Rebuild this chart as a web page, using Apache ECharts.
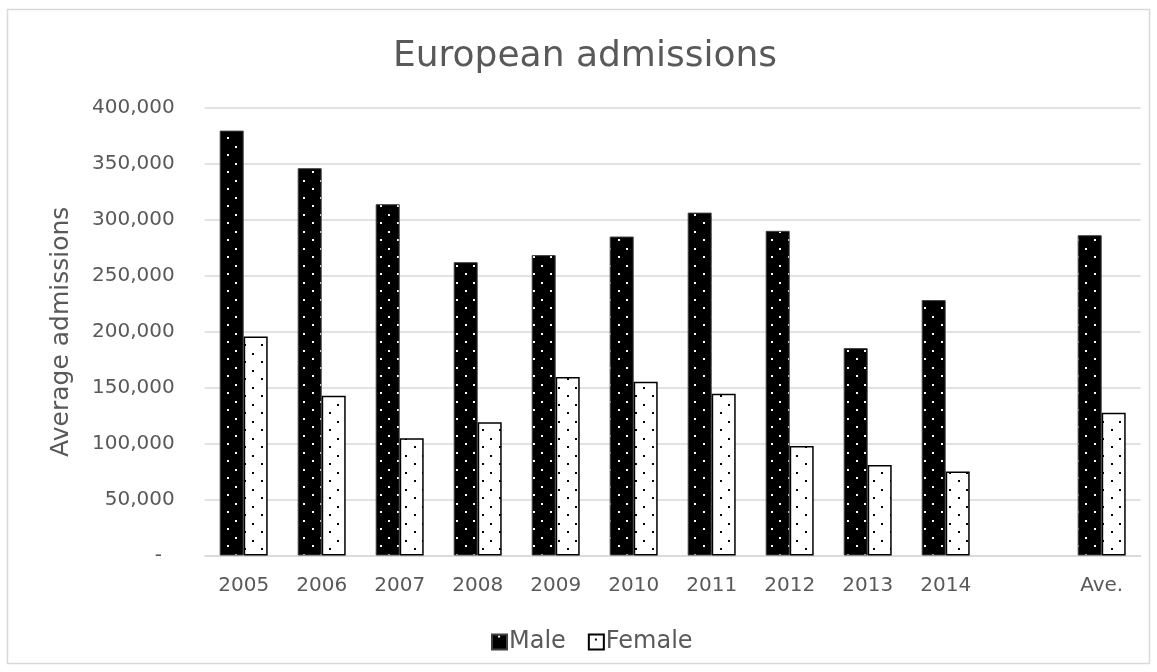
<!DOCTYPE html>
<html>
<head>
<meta charset="utf-8">
<script src="https://cdn.jsdelivr.net/npm/echarts@6/dist/echarts.min.js"></script>
<style>
  html, body { margin: 0; padding: 0; background: #ffffff; }
  #chart { width: 1157px; height: 672px; }
</style>
</head>
<body>
<div id="chart"></div>
<script>
// ---- data ----
const categories = ['2005', '2006', '2007', '2008', '2009', '2010', '2011', '2012', '2013', '2014', '', 'Ave.'];
const maleValues = [379800, 346200, 314000, 262200, 268500, 285100, 306500, 290200, 185400, 228300, null, 286300];
const femaleValues = [195800, 142900, 104800, 119100, 159600, 155400, 144600, 97900, 80900, 75000, null, 127500];
const yTickLabels = ['-', '50,000', '100,000', '150,000', '200,000', '250,000', '300,000', '350,000', '400,000'];
const seriesNames = ['Male', 'Female'];
const titleText = 'European admissions';
const yAxisTitle = 'Average admissions';

// ---- dotted fill patterns ----
function makePattern(bg, dot, dots) {
  const c = document.createElement('canvas');
  c.width = 17; c.height = 17;
  const ctx = c.getContext('2d');
  ctx.fillStyle = bg;
  ctx.fillRect(0, 0, 17, 17);
  ctx.fillStyle = dot;
  dots.forEach(function (p) { ctx.fillRect(p[0], p[1], 2, 2); });
  return c;
}
const malePattern = makePattern('#000000', '#ffffff', [[6, 1], [14, 10]]);
const femalePattern = makePattern('#ffffff', '#000000', [[6, 4], [14, 13]]);

const FONT = 'DejaVu Sans';
const TEXT = '#595959';
const GRID = '#d9d9d9';

const chart = echarts.init(document.getElementById('chart'), null, { renderer: 'canvas' });
chart.setOption({
  animation: false,
  backgroundColor: '#ffffff',
  textStyle: { fontFamily: FONT },
  title: {
    text: titleText,
    left: 585,
    top: 39,
    padding: 0,
    textAlign: 'center',
    textStyle: { fontFamily: FONT, fontSize: 36, fontWeight: 'normal', color: TEXT }
  },
  graphic: [{
    type: 'rect',
    shape: { x: 7.5, y: 9.5, width: 1142, height: 654 },
    style: { fill: 'none', stroke: GRID, lineWidth: 1.5 },
    silent: true,
    z: -1
  }],
  legend: {
    data: seriesNames,
    left: 491,
    top: 630,
    padding: 0,
    itemWidth: 15,
    itemHeight: 15,
    itemGap: 22,
    icon: 'rect',
    selectedMode: false,
    textStyle: { fontFamily: FONT, fontSize: 24, color: TEXT, padding: [0, 0, 0, -3] }
  },
  grid: { left: 204.7, right: 16.3, top: 108, bottom: 116.5, containLabel: false },
  xAxis: {
    type: 'category',
    data: categories,
    axisTick: { show: false },
    axisLine: { show: true, lineStyle: { color: GRID, width: 1.5 } },
    axisLabel: { color: TEXT, fontFamily: FONT, fontSize: 20, margin: 20, interval: 0 }
  },
  yAxis: {
    type: 'value',
    min: 0,
    max: 400000,
    interval: 50000,
    name: yAxisTitle,
    nameLocation: 'middle',
    nameGap: 131,
    nameTextStyle: { color: TEXT, fontFamily: FONT, fontSize: 25 },
    axisLine: { show: false },
    axisTick: { show: false },
    splitLine: { show: true, lineStyle: { color: GRID, width: 1.5 } },
    axisLabel: {
      color: TEXT, fontFamily: FONT, fontSize: 20, margin: 30,
      formatter: function (v) {
        const idx = Math.round(v / 50000);
        const s = yTickLabels[idx];
        return idx === 0 ? s + '  ' : s;
      }
    }
  },
  series: [
    {
      name: seriesNames[0],
      type: 'bar',
      data: maleValues,
      barWidth: 24,
      barGap: '0%',
      itemStyle: { color: { image: malePattern, repeat: 'repeat' }, borderColor: '#404040', borderWidth: 1 },
      emphasis: { disabled: true }
    },
    {
      name: seriesNames[1],
      type: 'bar',
      data: femaleValues,
      barWidth: 24,
      barGap: '0%',
      itemStyle: { color: { image: femalePattern, repeat: 'repeat' }, borderColor: '#000000', borderWidth: 1.5 },
      emphasis: { disabled: true }
    }
  ]
});
</script>
</body>
</html>
